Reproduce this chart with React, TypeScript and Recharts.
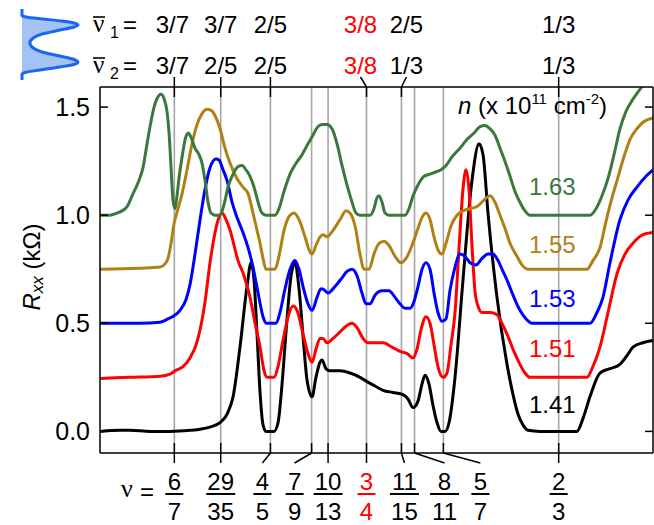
import React from 'react';
import { ComposedChart, AreaChart, Area, Line, XAxis, YAxis, ReferenceLine } from 'recharts';

type Pt = [number, number];

// x: inverse filling factor 1/nu (proportional to B); y: Rxx in kOhm (traces offset by 0.25 kOhm)
const trace141: Pt[] = [
  [1.1022, 0.0], [1.1196, 0.005], [1.1283, 0.005], [1.1456, 0.0], [1.1629, 0.0], [1.1803, 0.005],
  [1.189, 0.01], [1.1976, 0.02], [1.2063, 0.04], [1.2124, 0.08], [1.2176, 0.16], [1.2236, 0.39],
  [1.2297, 0.67], [1.2332, 0.78], [1.2358, 0.7], [1.2384, 0.45], [1.241, 0.18], [1.2436, 0.03],
  [1.2462, 0.0], [1.2531, 0.0], [1.2566, 0.04], [1.2601, 0.22], [1.2644, 0.52], [1.2679, 0.72],
  [1.2713, 0.78], [1.2748, 0.66], [1.2783, 0.44], [1.2817, 0.24], [1.2861, 0.16], [1.2895, 0.25],
  [1.293, 0.32], [1.2947, 0.33], [1.2982, 0.29], [1.3017, 0.28], [1.3104, 0.28], [1.319, 0.27],
  [1.3277, 0.25], [1.3338, 0.23], [1.3407, 0.21], [1.3476, 0.19], [1.3563, 0.18], [1.365, 0.17],
  [1.3693, 0.15], [1.3737, 0.11], [1.378, 0.14], [1.3815, 0.22], [1.3841, 0.26], [1.3875, 0.22],
  [1.391, 0.12], [1.3945, 0.04], [1.3979, 0.0], [1.4014, 0.0], [1.4049, 0.04], [1.4101, 0.25],
  [1.417, 0.7], [1.4248, 1.16], [1.4309, 1.33], [1.4344, 1.28], [1.4387, 1.01], [1.4465, 0.62],
  [1.4552, 0.31], [1.4604, 0.17], [1.4647, 0.08], [1.469, 0.03], [1.4734, 0.005], [1.4838, 0.0],
  [1.5159, 0.0], [1.5211, 0.06], [1.5271, 0.16], [1.5358, 0.27], [1.5445, 0.29], [1.5532, 0.31],
  [1.5592, 0.35], [1.5644, 0.39], [1.5731, 0.41], [1.5818, 0.42],
];

const trace151: Pt[] = [
  [1.1022, 0.245], [1.1283, 0.25], [1.1543, 0.255], [1.1629, 0.265], [1.1673, 0.28], [1.1742, 0.3],
  [1.1803, 0.34], [1.1855, 0.4], [1.189, 0.47], [1.1933, 0.6], [1.1976, 0.78], [1.202, 0.92],
  [1.2054, 0.99], [1.208, 1.01], [1.2115, 0.98], [1.215, 0.93], [1.2219, 0.79], [1.2271, 0.72],
  [1.2323, 0.62], [1.2367, 0.5], [1.241, 0.39], [1.2445, 0.28], [1.2471, 0.25], [1.2531, 0.25],
  [1.2566, 0.3], [1.2609, 0.42], [1.2653, 0.53], [1.2696, 0.58], [1.2731, 0.56], [1.2783, 0.45],
  [1.2826, 0.36], [1.2861, 0.32], [1.2895, 0.38], [1.293, 0.43], [1.2956, 0.43], [1.2991, 0.41],
  [1.3043, 0.43], [1.3104, 0.46], [1.3164, 0.49], [1.3208, 0.5], [1.3251, 0.48], [1.3303, 0.43],
  [1.3346, 0.41], [1.3407, 0.41], [1.3476, 0.41], [1.3554, 0.39], [1.3624, 0.37], [1.3685, 0.36],
  [1.3737, 0.34], [1.3771, 0.38], [1.3806, 0.47], [1.3849, 0.53], [1.3884, 0.5], [1.3919, 0.4],
  [1.3953, 0.3], [1.3997, 0.25], [1.4031, 0.27], [1.4066, 0.4], [1.4101, 0.55], [1.4136, 0.85],
  [1.417, 1.12], [1.4196, 1.21], [1.4222, 1.12], [1.4248, 0.86], [1.4274, 0.65], [1.43, 0.58],
  [1.4335, 0.55], [1.4404, 0.55], [1.4465, 0.54], [1.4508, 0.5], [1.4552, 0.45], [1.4612, 0.37],
  [1.4664, 0.31], [1.4708, 0.27], [1.4751, 0.25], [1.5245, 0.25], [1.5297, 0.3], [1.5358, 0.39],
  [1.5428, 0.55], [1.5506, 0.73], [1.5575, 0.82], [1.5644, 0.87], [1.5731, 0.91], [1.5818, 0.92],
];

const trace153: Pt[] = [
  [1.1022, 0.5], [1.1369, 0.5], [1.1543, 0.505], [1.1612, 0.52], [1.1664, 0.535], [1.1716, 0.56],
  [1.1768, 0.61], [1.1803, 0.68], [1.1846, 0.82], [1.189, 0.98], [1.1933, 1.12], [1.1976, 1.22],
  [1.2028, 1.26], [1.2054, 1.255], [1.2089, 1.21], [1.2124, 1.16], [1.2167, 1.06], [1.221, 0.99],
  [1.2262, 0.92], [1.2306, 0.85], [1.2349, 0.76], [1.2393, 0.64], [1.2436, 0.53], [1.2462, 0.5],
  [1.2549, 0.5], [1.2583, 0.55], [1.2627, 0.66], [1.267, 0.75], [1.2713, 0.79], [1.2748, 0.75],
  [1.2783, 0.67], [1.2826, 0.59], [1.2861, 0.56], [1.2904, 0.62], [1.2939, 0.66], [1.2965, 0.655],
  [1.3, 0.64], [1.306, 0.67], [1.3121, 0.71], [1.3164, 0.74], [1.3208, 0.75], [1.3251, 0.72],
  [1.3294, 0.64], [1.3329, 0.59], [1.3364, 0.59], [1.3407, 0.63], [1.3468, 0.65], [1.3528, 0.65],
  [1.3581, 0.62], [1.3624, 0.59], [1.3667, 0.57], [1.3711, 0.57], [1.3745, 0.6], [1.378, 0.67],
  [1.3815, 0.75], [1.3849, 0.78], [1.3884, 0.75], [1.3919, 0.64], [1.3953, 0.55], [1.3988, 0.51],
  [1.4023, 0.52], [1.4057, 0.65], [1.4101, 0.76], [1.4144, 0.82], [1.4187, 0.81], [1.4231, 0.78],
  [1.4283, 0.77], [1.4335, 0.8], [1.4387, 0.82], [1.443, 0.82], [1.4474, 0.79], [1.4517, 0.74],
  [1.4552, 0.7], [1.4612, 0.62], [1.4664, 0.56], [1.4717, 0.52], [1.4768, 0.5], [1.5271, 0.5],
  [1.5332, 0.55], [1.5384, 0.62], [1.5445, 0.78], [1.5532, 0.98], [1.5601, 1.07], [1.5679, 1.13],
  [1.5757, 1.18], [1.5818, 1.21],
];

const trace155: Pt[] = [
  [1.1022, 0.75], [1.1369, 0.755], [1.1543, 0.76], [1.1586, 0.775], [1.1612, 0.8], [1.1638, 0.87],
  [1.1664, 0.96], [1.1699, 1.03], [1.1734, 1.1], [1.1777, 1.21], [1.182, 1.33], [1.1864, 1.42],
  [1.1907, 1.47], [1.195, 1.49], [1.1985, 1.485], [1.202, 1.46], [1.2063, 1.4], [1.2106, 1.31],
  [1.215, 1.24], [1.221, 1.17], [1.2262, 1.13], [1.2306, 1.1], [1.2349, 1.01], [1.2384, 0.93],
  [1.241, 0.87], [1.2436, 0.8], [1.2462, 0.75], [1.254, 0.75], [1.2574, 0.81], [1.2618, 0.93],
  [1.267, 1.0], [1.2705, 1.01], [1.2748, 0.98], [1.28, 0.9], [1.2835, 0.84], [1.2861, 0.82],
  [1.2895, 0.86], [1.293, 0.9], [1.2956, 0.91], [1.2991, 0.9], [1.3043, 0.93], [1.3104, 0.98],
  [1.3156, 1.02], [1.319, 1.01], [1.3234, 0.95], [1.3277, 0.82], [1.3312, 0.75], [1.3355, 0.75],
  [1.3398, 0.82], [1.3442, 0.87], [1.3485, 0.88], [1.3528, 0.86], [1.3581, 0.81], [1.3633, 0.78],
  [1.3676, 0.8], [1.3728, 0.86], [1.378, 0.94], [1.3815, 0.99], [1.3849, 1.01], [1.3884, 0.98],
  [1.3919, 0.9], [1.3953, 0.84], [1.3988, 0.82], [1.4023, 0.87], [1.4066, 0.95], [1.4118, 1.0],
  [1.417, 1.02], [1.4231, 1.03], [1.4292, 1.04], [1.4352, 1.07], [1.4404, 1.09], [1.4448, 1.06],
  [1.4491, 1.0], [1.4534, 0.94], [1.4578, 0.87], [1.4638, 0.81], [1.4682, 0.77], [1.4734, 0.75],
  [1.5245, 0.75], [1.5297, 0.79], [1.5358, 0.85], [1.541, 0.97], [1.5462, 1.08], [1.5506, 1.16],
  [1.5566, 1.27], [1.5618, 1.35], [1.5679, 1.4], [1.5731, 1.43], [1.5818, 1.45],
];

const trace163: Pt[] = [
  [1.1022, 1.0], [1.1109, 1.0], [1.117, 1.01], [1.1213, 1.02], [1.1257, 1.04], [1.1309, 1.1],
  [1.1352, 1.15], [1.1395, 1.22], [1.143, 1.33], [1.1456, 1.41], [1.1491, 1.5], [1.1517, 1.54],
  [1.1551, 1.56], [1.1577, 1.54], [1.1603, 1.48], [1.1621, 1.38], [1.1638, 1.22], [1.1655, 1.07],
  [1.1673, 1.03], [1.169, 1.09], [1.1707, 1.17], [1.1734, 1.27], [1.176, 1.35], [1.1786, 1.38],
  [1.1812, 1.36], [1.1846, 1.31], [1.1881, 1.28], [1.1907, 1.24], [1.1933, 1.16], [1.1959, 1.06],
  [1.1985, 1.01], [1.202, 1.0], [1.2063, 1.0], [1.2098, 1.05], [1.2132, 1.13], [1.2176, 1.19],
  [1.2219, 1.225], [1.2254, 1.23], [1.2288, 1.21], [1.2323, 1.18], [1.2358, 1.13], [1.2393, 1.06],
  [1.2427, 1.01], [1.2462, 1.0], [1.254, 1.0], [1.2574, 1.03], [1.2618, 1.11], [1.267, 1.19],
  [1.2722, 1.24], [1.2774, 1.28], [1.2826, 1.33], [1.2869, 1.37], [1.2913, 1.41], [1.2947, 1.42],
  [1.2991, 1.42], [1.3034, 1.4], [1.3078, 1.33], [1.3121, 1.23], [1.3164, 1.14], [1.3208, 1.06],
  [1.3242, 1.01], [1.3277, 1.0], [1.3364, 1.0], [1.3398, 1.03], [1.3424, 1.08], [1.3442, 1.09],
  [1.3468, 1.06], [1.3494, 1.01], [1.3528, 1.0], [1.3667, 1.0], [1.3702, 1.03], [1.3737, 1.09],
  [1.378, 1.14], [1.3832, 1.18], [1.3884, 1.19], [1.3936, 1.2], [1.3979, 1.21], [1.4023, 1.23],
  [1.4075, 1.27], [1.4144, 1.31], [1.4205, 1.35], [1.4266, 1.38], [1.4318, 1.41], [1.4361, 1.415],
  [1.4404, 1.4], [1.4448, 1.37], [1.4491, 1.31], [1.4534, 1.25], [1.4578, 1.18], [1.4621, 1.11],
  [1.4664, 1.06], [1.4708, 1.02], [1.4751, 1.0], [1.5271, 1.0], [1.5324, 1.03], [1.5376, 1.09],
  [1.5428, 1.17], [1.548, 1.28], [1.5532, 1.4], [1.5584, 1.48], [1.5636, 1.53], [1.5688, 1.57],
  [1.5731, 1.6], [1.5818, 1.66],
];

// density profile of the double-layer system (icon): depth (px-like) vs normalized density
const profileDepth = [9, 15.5, 17, 19, 21, 23, 25, 27, 30, 34, 38, 43, 48, 52, 56, 59.5, 62, 64.5, 67, 70, 72, 74, 80];
const profileDensity = [0, 0, 0.07, 0.36, 0.71, 0.93, 1, 0.93, 0.68, 0.36, 0.2, 0.14, 0.2, 0.36, 0.68, 0.93, 1, 0.93, 0.68, 0.32, 0.09, 0, 0];

// filling factors
const nuNum = ['6', '29', '4', '7', '10', '3', '11', '8', '5', '2'];
const nuDen = ['7', '35', '5', '9', '13', '4', '15', '11', '7', '3'];
const topIdx = [0, 1, 2, 5, 6, 9];
const nuBar1 = ['3/7', '3/7', '2/5', '3/8', '2/5', '1/3'];
const nuBar2 = ['3/7', '2/5', '2/5', '3/8', '1/3', '1/3'];
const densities = ['1.63', '1.55', '1.53', '1.51', '1.41'];
const yTicks = [0, 0.5, 1.0, 1.5];

// layout constants (label offsets in px)
const bottomShift = [0, 0, -8, -17, 0, 0, 3, 30, 37, 0];
const topShift = [-2, 0, 0, -6, 5, 0];
const labelBaseline = [195, 253, 307, 357, 413];

const SANS = '"Liberation Sans", Arial, sans-serif';
const SERIF = '"Liberation Serif", "Times New Roman", serif';
const GREY = '#a6a6a6';
const COLORS = { k: '#000000', r: '#ff0000', b: '#0000ff', g: '#b08015', gr: '#3c783c' };
const densityColors = [COLORS.gr, COLORS.g, COLORS.b, COLORS.r, COLORS.k];

const rows = (pts: Pt[]) => pts.map(([x, v]) => ({ x, v }));
const bottomTicks = nuNum.map((n, i) => Number(nuDen[i]) / Number(n));
const iconData = profileDepth.map((y, i) => ({ y, d: profileDensity[i] }));

const X_DOMAIN: [number, number] = [1.1022, 1.5818];
const Y_DOMAIN: [number, number] = [-0.1, 1.593];

const LeftTick = (p: any) => {
  const { x, y, payload } = p;
  return (
    <g>
      <line x1={x + 10} x2={x + 18} y1={y} y2={y} stroke="#000" strokeWidth={1.5} />
      <text x={x} y={y} dy={9} textAnchor="end" fontSize={25} fontFamily={SANS} fill="#000">
        {Number(payload.value).toFixed(1)}
      </text>
    </g>
  );
};

const RightTick = (p: any) => {
  const { x, y } = p;
  return <line x1={x - 8} x2={x} y1={y} y2={y} stroke="#000" strokeWidth={1.5} />;
};

const BottomTick = (p: any) => {
  const { x, y, index } = p;
  const s = bottomShift[index] ?? 0;
  const cx = x + s;
  const num = nuNum[index];
  const den = nuDen[index];
  const col = index === 5 ? COLORS.r : '#000';
  const w = num.length > 1 || den.length > 1 ? 29 : 18;
  return (
    <g>
      <line x1={x} x2={x} y1={y - 10} y2={y} stroke="#000" strokeWidth={1.5} />
      <line x1={x} x2={cx} y1={y} y2={y + 10} stroke="#000" strokeWidth={1.5} />
      <text x={cx} y={y + 37} textAnchor="middle" fontSize={24} fontFamily={SANS} fill={col}>{num}</text>
      <line x1={cx - w / 2} x2={cx + w / 2} y1={y + 41} y2={y + 41} stroke={col} strokeWidth={2} />
      <text x={cx} y={y + 67} textAnchor="middle" fontSize={24} fontFamily={SANS} fill={col}>{den}</text>
    </g>
  );
};

// top labels attached to the reference lines (viewBox gives the line position)
const TopLabel = (p: any) => {
  const { viewBox, j } = p;
  if (!viewBox || j < 0) return null;
  const x = viewBox.x;
  const y = Math.min(viewBox.y, viewBox.y + (viewBox.height || 0));
  const s = topShift[j] ?? 0;
  const cx = x + s;
  const col = j === 3 ? COLORS.r : '#000';
  const slant = Math.abs(s) > 3;
  return (
    <g>
      <line x1={x} x2={x} y1={y} y2={y + 10} stroke="#000" strokeWidth={1.5} />
      <line x1={x} x2={slant ? cx : x} y1={y} y2={y - 10} stroke="#000" strokeWidth={1.5} />
      <text x={cx} y={y - 54} textAnchor="middle" fontSize={24} fontFamily={SANS} fill={col}>{nuBar1[j]}</text>
      <text x={cx} y={y - 13} textAnchor="middle" fontSize={24} fontFamily={SANS} fill={col}>{nuBar2[j]}</text>
    </g>
  );
};

const series = [
  { key: '1.41', data: rows(trace141), color: COLORS.k },
  { key: '1.51', data: rows(trace151), color: COLORS.r },
  { key: '1.53', data: rows(trace153), color: COLORS.b },
  { key: '1.55', data: rows(trace155), color: COLORS.g },
  { key: '1.63', data: rows(trace163), color: COLORS.gr },
];

export default function App() {
  return (
    <div style={{ position: 'absolute', left: 0, top: 0, width: 654, height: 525, background: '#fff' }}>
      <div style={{ position: 'absolute', left: 0, top: 0 }}>
        <ComposedChart width={654} height={525} margin={{ top: 0, right: 0, bottom: 0, left: 40 }}>
          <XAxis
            xAxisId="bottom"
            dataKey="x"
            type="number"
            domain={X_DOMAIN}
            allowDataOverflow
            ticks={bottomTicks}
            interval={0}
            height={72}
            tickSize={0}
            tickMargin={0}
            tick={<BottomTick />}
            axisLine={{ stroke: '#000', strokeWidth: 1.5 }}
            tickLine={false}
          />
          <XAxis
            xAxisId="top"
            orientation="top"
            type="number"
            domain={X_DOMAIN}
            allowDataOverflow
            height={87}
            tick={false}
            axisLine={{ stroke: '#000', strokeWidth: 1.5 }}
            tickLine={false}
          />
          <YAxis
            yAxisId="left"
            type="number"
            domain={Y_DOMAIN}
            allowDataOverflow
            ticks={yTicks}
            interval={0}
            width={60}
            tickSize={0}
            tickMargin={10}
            tick={<LeftTick />}
            axisLine={{ stroke: '#000', strokeWidth: 1.5 }}
            tickLine={false}
          />
          <YAxis
            yAxisId="right"
            orientation="right"
            type="number"
            domain={Y_DOMAIN}
            allowDataOverflow
            ticks={yTicks}
            interval={0}
            width={1}
            tickSize={0}
            tickMargin={0}
            tick={<RightTick />}
            axisLine={{ stroke: '#000', strokeWidth: 1.5 }}
            tickLine={false}
          />
          {bottomTicks.map((v, i) => (
            <ReferenceLine
              key={v}
              x={v}
              xAxisId="bottom"
              yAxisId="left"
              stroke={GREY}
              strokeWidth={1.6}
              label={<TopLabel j={topIdx.indexOf(i)} />}
            />
          ))}
          {series.map((s) => (
            <Line
              key={s.key}
              data={s.data}
              dataKey="v"
              xAxisId="bottom"
              yAxisId="left"
              type="monotone"
              stroke={s.color}
              strokeWidth={3}
              dot={false}
              activeDot={false}
              isAnimationActive={false}
            />
          ))}
        </ComposedChart>
      </div>
      <div style={{ position: 'absolute', left: 0, top: 0 }}>
        <AreaChart width={92} height={90} layout="vertical" data={iconData} margin={{ top: 9, right: 14, bottom: 10, left: 22 }}>
          <XAxis type="number" hide domain={[0, 1]} />
          <YAxis type="number" dataKey="y" hide domain={[9, 80]} />
          <Area
            dataKey="d"
            type="monotone"
            stroke="#1a66ee"
            strokeWidth={3}
            fill="#a4c2f4"
            fillOpacity={1}
            isAnimationActive={false}
            dot={false}
            activeDot={false}
          />
        </AreaChart>
      </div>
      <svg width={654} height={525} style={{ position: 'absolute', left: 0, top: 0, pointerEvents: 'none' }}>
        {[0, 1].map((r) => (
          <g key={r}>
            <text x={93} y={32 + r * 41} fontSize={25} fontFamily={SERIF} fill="#000">ν</text>
            <line x1={93} x2={105} y1={17 + r * 41} y2={17 + r * 41} stroke="#000" strokeWidth={1.6} />
            <text x={110} y={38 + r * 41} fontSize={16} fontFamily={SANS} fill="#000">{r === 0 ? '1' : '2'}</text>
            <text x={123} y={33 + r * 41} fontSize={24} fontFamily={SANS} fill="#000">=</text>
          </g>
        ))}
        <text x={121} y={497} fontSize={26} fontFamily={SERIF} fill="#000">ν</text>
        <text x={140} y={500} fontSize={24} fontFamily={SANS} fill="#000">=</text>
        <text x={40} y={267} transform="rotate(-90 40 267)" textAnchor="middle" fontSize={24} fontFamily={SANS} fill="#000">
          <tspan fontStyle="italic">R</tspan>
          <tspan fontStyle="italic" fontSize={17} dy={3}>xx</tspan>
          <tspan dy={-3}> (kΩ)</tspan>
        </text>
        <text x={458} y={114} fontSize={24} fontFamily={SANS} fill="#000">
          <tspan fontStyle="italic">n</tspan>
          <tspan> (x 10</tspan>
          <tspan fontSize={15} dy={-10}>11</tspan>
          <tspan dy={10}> cm</tspan>
          <tspan fontSize={15} dy={-10}>-2</tspan>
          <tspan dy={10}>)</tspan>
        </text>
        {densities.map((d, i) => (
          <text key={d} x={529} y={labelBaseline[i]} fontSize={24} fontFamily={SANS} fill={densityColors[i]}>{d}</text>
        ))}
      </svg>
    </div>
  );
}
